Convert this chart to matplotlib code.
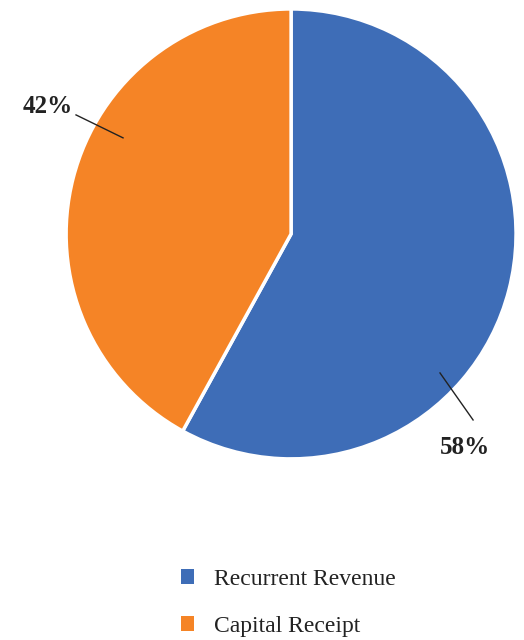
import matplotlib.pyplot as plt
from matplotlib.patches import Patch

# data
labels = ['Recurrent Revenue', 'Capital Receipt']
shares = [58, 42]
colors = ['#3E6DB7', '#F58426']

# label placement (data coords, pie radius = 1): (line start, line end, text)
label_pos = [
    ((0.662, -0.618), (0.809, -0.827), (0.773, -0.950)),
    ((-0.747, 0.427), (-0.956, 0.529), (-1.08, 0.565)),
]

plt.rcParams['font.family'] = ['Liberation Serif', 'DejaVu Serif']

fig = plt.figure(figsize=(5.24, 6.4), dpi=100)
ax = fig.add_axes([0.126, 0.283, 0.859, 0.703])

wedges, _ = ax.pie(shares, colors=colors, startangle=90, counterclock=False,
                   radius=1, wedgeprops={'edgecolor': 'white', 'linewidth': 2.5})
ax.set_xlim(-1, 1)
ax.set_ylim(-1, 1)
ax.set_aspect('equal')
ax.axis('off')

for val, (p0, p1, pt) in zip(shares, label_pos):
    ax.plot([p0[0], p1[0]], [p0[1], p1[1]], color='#222222', lw=1, clip_on=False)
    ax.text(pt[0], pt[1], f'{val}%', ha='center', va='center', fontsize=18,
            fontweight='bold', color='#222222', clip_on=False)

handles = [Patch(facecolor=c, edgecolor='none') for c in colors]
fig.legend(handles, labels, loc='center', bbox_to_anchor=(0.55, 0.058),
           frameon=False, fontsize=17, handlelength=0.55, handleheight=0.55,
           handletextpad=0.85, labelspacing=1.1, labelcolor='#222222')

fig.savefig('out.png', dpi=100)
